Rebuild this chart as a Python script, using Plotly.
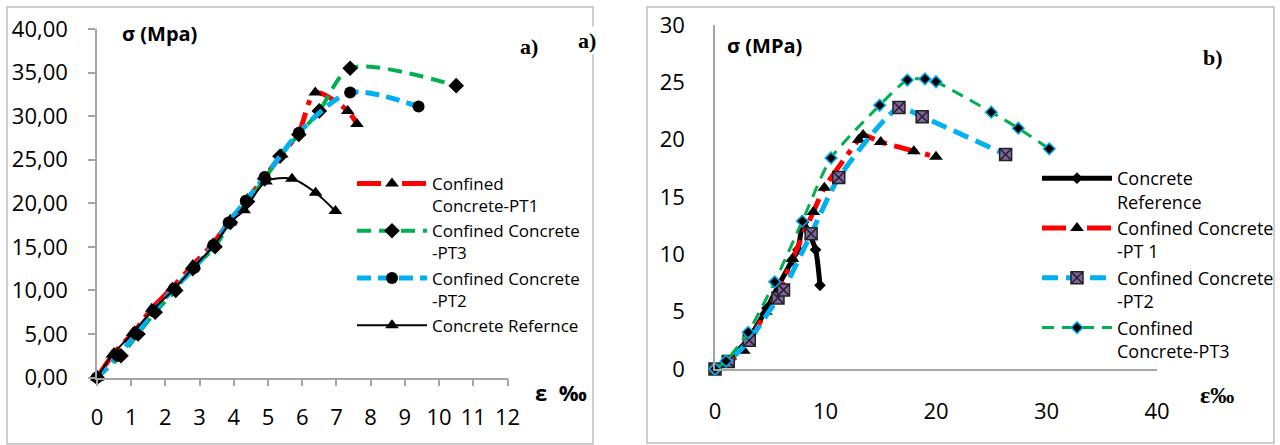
import plotly.graph_objects as go

W, H = 1280, 445

# ---------------- Panel a) data (strain in per-mille, stress in MPa) ----------------
a_pt1_e = [0, 0.5, 1.1, 1.6, 2.2, 2.8, 3.4, 3.9, 4.4, 4.9, 5.4, 5.9, 6.38, 7.33, 7.6]
a_pt1_s = [0, 2.8, 5.3, 7.9, 10.3, 12.9, 15.4, 18.1, 20.5, 23.0, 25.6, 28.1, 32.7, 30.6, 29.1]

a_pt3_e = [0, 0.7, 1.2, 1.7, 2.3, 2.8, 3.45, 3.9, 4.4, 4.9, 5.35, 5.9, 6.5, 7.4, 10.5]
a_pt3_s = [0, 2.5, 5.0, 7.5, 10.0, 12.5, 15.0, 17.8, 20.2, 22.8, 25.4, 27.9, 30.6, 35.5, 33.5]

a_pt2_e = [0, 0.6, 1.15, 1.65, 2.25, 2.85, 3.4, 3.85, 4.35, 4.9, 5.9, 7.4, 9.4]
a_pt2_s = [0, 2.5, 5.0, 7.6, 10.2, 12.6, 15.2, 17.8, 20.3, 23.0, 28.1, 32.7, 31.1]

a_ref_e = [0, 0.45, 1.04, 1.64, 2.27, 2.83, 3.43, 3.9, 4.3, 4.94, 5.7, 6.39, 6.97]
a_ref_s = [0, 2.6, 5.1, 7.8, 10.2, 12.7, 15.2, 17.8, 19.2, 22.5, 22.8, 21.2, 19.1]

# ---------------- Panel b) data ----------------
b_ref_e = [0, 1.1, 3.0, 4.7, 5.7, 7.0, 7.5, 8.0, 9.1, 9.5]
b_ref_s = [0, 0.7, 2.6, 5.3, 7.2, 9.5, 10.4, 12.8, 10.4, 7.3]

b_pt1_e = [0, 1.2, 2.6, 4.6, 5.9, 7.0, 8.9, 9.9, 13.0, 13.4, 15.0, 18.0, 20.0]
b_pt1_s = [0, 0.6, 1.6, 5.0, 7.0, 9.6, 13.7, 15.8, 20.0, 20.4, 19.8, 19.0, 18.5]

b_pt2_e = [0, 1.2, 3.1, 5.7, 6.2, 8.7, 11.2, 16.65, 18.75, 26.3]
b_pt2_s = [0, 0.65, 2.5, 6.2, 6.9, 11.8, 16.7, 22.8, 22.0, 18.7]

b_pt3_e = [0, 1.0, 3.0, 5.4, 7.9, 10.5, 14.9, 17.4, 19.0, 20.0, 25.0, 27.45, 30.25]
b_pt3_s = [0, 0.7, 3.2, 7.6, 12.9, 18.4, 23.0, 25.2, 25.3, 25.05, 22.4, 21.0, 19.2]

a_xticks = list(range(0, 13))
a_yticks = list(range(0, 45, 5))
b_xticks = [0, 10, 20, 30, 40]
b_yticks = [0, 5, 10, 15, 20, 25, 30]

RED, GREEN, CYAN, PURPLE = "#ff0000", "#00b050", "#00b0f0", "#8064a2"
FONT = "Open Sans"

def px(x):
    return x / W

def py(y):
    return 1 - y / H

fig = go.Figure()

# Panel a traces
fig.add_trace(go.Scatter(x=a_pt1_e, y=a_pt1_s, name="Confined<br>Concrete-PT1", mode="lines+markers",
                         line=dict(color=RED, width=5, dash="24px,8px,5px,8px", shape="spline", smoothing=0.8),
                         marker=dict(symbol="triangle-up", size=12, color="black"),
                         xaxis="x", yaxis="y", legend="legend", cliponaxis=False))
fig.add_trace(go.Scatter(x=a_pt3_e, y=a_pt3_s, name="Confined Concrete<br>-PT3", mode="lines+markers",
                         line=dict(color=GREEN, width=4, dash="14px,8px", shape="spline", smoothing=0.8),
                         marker=dict(symbol="diamond", size=12, color="black"),
                         xaxis="x", yaxis="y", legend="legend", cliponaxis=False))
fig.add_trace(go.Scatter(x=a_pt2_e, y=a_pt2_s, name="Confined Concrete<br>-PT2", mode="lines+markers",
                         line=dict(color=CYAN, width=5, dash="14px,7px", shape="spline", smoothing=0.8),
                         marker=dict(symbol="circle", size=12, color="black"),
                         xaxis="x", yaxis="y", legend="legend", cliponaxis=False))
fig.add_trace(go.Scatter(x=a_ref_e, y=a_ref_s, name="Concrete Refernce", mode="lines+markers",
                         line=dict(color="black", width=2, shape="spline", smoothing=0.8),
                         marker=dict(symbol="triangle-up", size=12, color="black"),
                         xaxis="x", yaxis="y", legend="legend", cliponaxis=False))

# Panel b traces
fig.add_trace(go.Scatter(x=b_ref_e, y=b_ref_s, name="Concrete<br>Reference", mode="lines+markers",
                         line=dict(color="black", width=5, shape="spline", smoothing=0.6),
                         marker=dict(symbol="diamond", size=9, color="black"),
                         xaxis="x2", yaxis="y2", legend="legend2", cliponaxis=False))
fig.add_trace(go.Scatter(x=b_pt1_e, y=b_pt1_s, name="Confined Concrete<br>-PT 1", mode="lines+markers",
                         line=dict(color=RED, width=5, dash="24px,8px,5px,8px", shape="spline", smoothing=0.6),
                         marker=dict(symbol="triangle-up", size=12, color="black"),
                         xaxis="x2", yaxis="y2", legend="legend2", cliponaxis=False))
fig.add_trace(go.Scatter(x=b_pt2_e, y=b_pt2_s, name="Confined Concrete<br>-PT2", mode="lines+markers",
                         line=dict(color=CYAN, width=5, dash="16px,8px", shape="spline", smoothing=0.6),
                         marker=dict(symbol="square-x", size=12, color=PURPLE, line=dict(color="#222222", width=1.5)),
                         xaxis="x2", yaxis="y2", legend="legend2", cliponaxis=False))
fig.add_trace(go.Scatter(x=b_pt3_e, y=b_pt3_s, name="Confined<br>Concrete-PT3", mode="lines+markers",
                         line=dict(color=GREEN, width=3, dash="12px,8px", shape="spline", smoothing=0.6),
                         marker=dict(symbol="diamond", size=9, color="black", line=dict(color=CYAN, width=1.5)),
                         xaxis="x2", yaxis="y2", legend="legend2", cliponaxis=False))

axis_common = dict(showgrid=False, zeroline=False, showline=True, linecolor="#a6a6a6", linewidth=1.5,
                   automargin=False, tickfont=dict(family=FONT, size=22, color="black"))

fig.update_layout(
    template="none",
    width=W, height=H,
    margin=dict(l=0, r=0, t=0, b=0, pad=0, autoexpand=False),
    paper_bgcolor="white", plot_bgcolor="white",
    separators=", ",
    font=dict(family=FONT, color="black"),
    xaxis=dict(domain=[px(97), px(507.5)], range=[0, 12], tickvals=a_xticks, anchor="y",
               ticks="outside", ticklen=7, tickcolor="#a6a6a6", tickwidth=1.5, ticklabelstandoff=12, **axis_common),
    yaxis=dict(domain=[py(377.5), py(29)], range=[0, 40], tickvals=a_yticks, tickformat=".2f", anchor="x",
               ticks="outside", ticklen=7, tickcolor="#a6a6a6", tickwidth=1.5, ticklabelstandoff=16, **axis_common),
    xaxis2=dict(domain=[px(715), px(1157)], range=[0, 40], tickvals=b_xticks, anchor="y2",
                ticks="", ticklabelstandoff=22, **axis_common),
    yaxis2=dict(domain=[py(369), py(25)], range=[0, 30], tickvals=b_yticks, anchor="x2",
                ticks="", ticklabelstandoff=24, **axis_common),
    legend=dict(x=px(352), y=py(166), xanchor="left", yanchor="top", valign="top", itemwidth=70,
                font=dict(family=FONT, size=17, color="black"), bgcolor="rgba(0,0,0,0)", tracegroupgap=0),
    legend2=dict(x=px(1037), y=py(160), xanchor="left", yanchor="top", valign="top", itemwidth=70,
                 font=dict(family=FONT, size=18, color="black"), bgcolor="rgba(0,0,0,0)", tracegroupgap=0),
    showlegend=True,
)

# panel frames
fig.add_shape(type="rect", xref="paper", yref="paper", x0=px(7), y0=py(444), x1=px(593), y1=py(7),
              line=dict(color="#bfbfbf", width=1.5), layer="below")
fig.add_shape(type="rect", xref="paper", yref="paper", x0=px(647), y0=py(443), x1=px(1274), y1=py(7),
              line=dict(color="#bfbfbf", width=1.5), layer="below")

ann = [
    dict(text="<b>σ (Mpa)</b>", x=px(120), y=py(34), xanchor="left", yanchor="middle",
         font=dict(family=FONT, size=20, color="black")),
    dict(text="<b>ε  ‰</b>", x=px(533), y=py(392), xanchor="left", yanchor="middle",
         font=dict(family=FONT, size=22, color="black")),
    dict(text="<b>a)</b>", x=px(529), y=py(46), xanchor="center", yanchor="middle",
         font=dict(family="Liberation Serif", size=22, color="black")),
    dict(text="<b>a)</b>", x=px(587), y=py(40), xanchor="center", yanchor="middle", bgcolor="white",
         font=dict(family="Liberation Serif", size=22, color="black")),
    dict(text="<b>σ (MPa)</b>", x=px(725), y=py(45), xanchor="left", yanchor="middle",
         font=dict(family=FONT, size=20, color="black")),
    dict(text="<b>b)</b>", x=px(1213), y=py(57), xanchor="center", yanchor="middle",
         font=dict(family="Liberation Serif", size=22, color="black")),
    dict(text="<b>ε‰</b>", x=px(1198), y=py(395), xanchor="left", yanchor="middle",
         font=dict(family="Liberation Serif", size=24, color="black")),
]
for a in ann:
    fig.add_annotation(xref="paper", yref="paper", showarrow=False, **a)

fig.write_html("out.html", config={"displayModeBar": False},
               post_script="document.body.style.margin='0';document.body.style.overflow='hidden';")
